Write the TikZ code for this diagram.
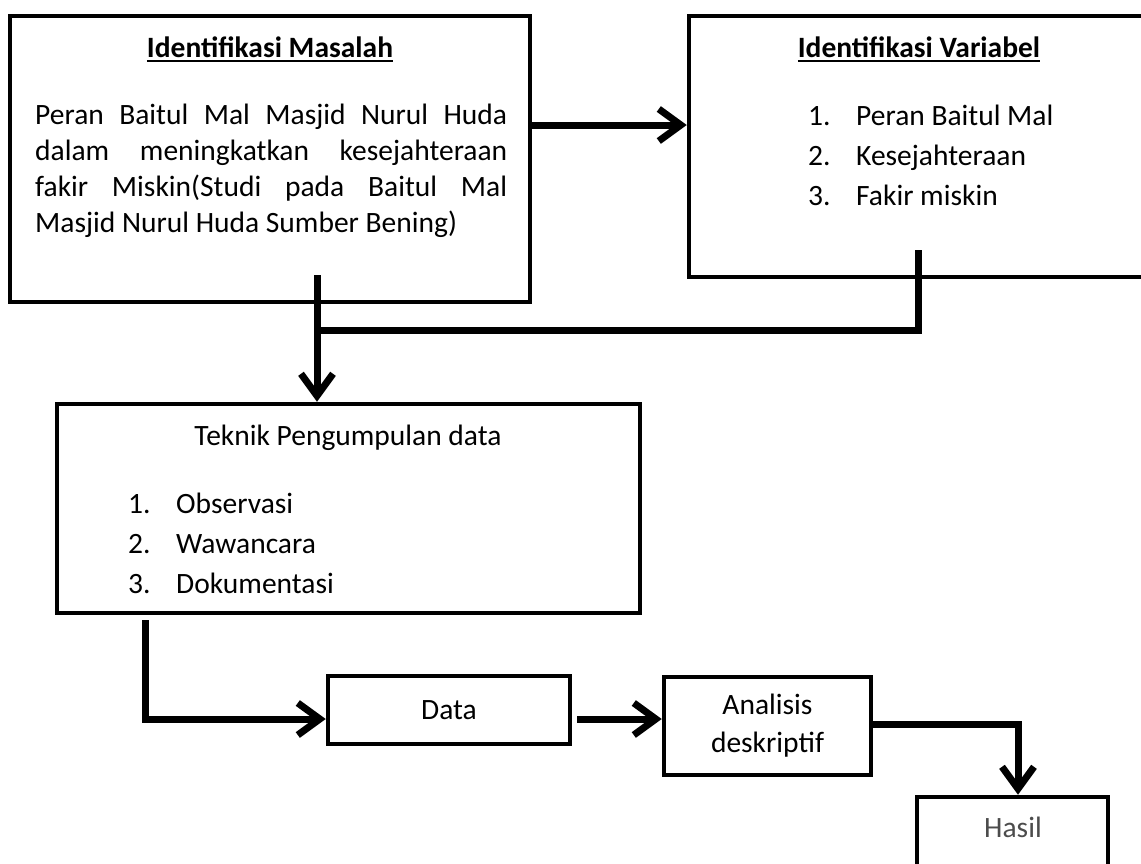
\documentclass[tikz,border=0pt]{standalone}
\usepackage{fontspec}
\setmainfont{Carlito}
\usepackage{tikz}
\usetikzlibrary{positioning,calc,arrows.meta}

\newcommand{\garis}[1]{\setbox0\hbox{#1}\rlap{\rule[-5pt]{\wd0}{2.5pt}}\box0}

\begin{document}
\begin{tikzpicture}[x=1pt,y=-1pt,
  font=\fontsize{29.5}{36}\selectfont,
  box/.style={draw, line width=4.5pt, rectangle, inner sep=0pt},
  txt/.style={inner sep=0pt, anchor=base},
  list/.style={inner sep=0pt, anchor=base west, text width=300pt, align=flush left,
    font=\fontsize{29.5}{40}\selectfont},
  flow/.style={line width=7pt, -{Straight Barb[length=22pt,width=32pt]}},
  link/.style={line width=7pt}]
  \useasboundingbox (0,0) rectangle (1141,863);
  \clip (0,0) rectangle (1141,863);

  % Boxes
  \node[box, minimum width=520pt, minimum height=286pt] (masalah) at (270,159) {};
  \node[box, minimum width=481pt, minimum height=261pt] (variabel) at (929.5,146.5) {};
  \node[box, minimum width=583pt, minimum height=209pt] (teknik) at (348.5,508.5) {};
  \node[box, minimum width=242pt, minimum height=68pt] (data) at (449,710) {Data};
  \node[box, minimum width=207pt, minimum height=98pt, align=center,
    font=\fontsize{29.5}{38}\selectfont] (analisis) at (767.5,726)
    {\raisebox{-4pt}{Analisis}\\\raisebox{-4pt}{deskriptif}};
  \node[box, minimum width=191pt, minimum height=93pt] (hasil) at (1012.5,843.5) {};

  % Texts
  \node[txt] (judul1) at (270,57) {\bfseries\garis{Identifikasi Masalah}};
  \node[inner sep=0pt, anchor=base west, text width=472pt, align=justify] (isi1) at (35,124)
    {Peran Baitul Mal Masjid Nurul Huda\linebreak dalam meningkatkan kesejahteraan\linebreak
     fakir Miskin(Studi pada Baitul Mal\linebreak Masjid Nurul Huda Sumber Bening)};
  \node[txt] (judul2) at (919,57) {\bfseries\garis{Identifikasi Variabel}};
  \node[list] (isi2) at (808,125) {\makebox[48pt][l]{1.}Peran Baitul Mal\\
    \makebox[48pt][l]{2.}Kesejahteraan\\ \makebox[48pt][l]{3.}Fakir miskin};
  \node[txt] (judul3) at (348,445) {Teknik Pengumpulan data};
  \node[list] (isi3) at (128,513) {\makebox[48pt][l]{1.}Observasi\\
    \makebox[48pt][l]{2.}Wawancara\\ \makebox[48pt][l]{3.}Dokumentasi};
  \node[txt, text=black!70] (hasiltxt) at (1013,837) {Hasil};

  % Arrows
  \coordinate (m1) at ([yshift=34pt]masalah.east);
  \draw[flow] (m1) -- (m1 -| variabel.west);
  \coordinate (m2) at ([xshift=47pt,yshift=29pt]masalah.south);
  \coordinate (v2) at ([xshift=-11.5pt,yshift=29pt]variabel.south);
  \coordinate (sambung) at ($(m2)+(0,55)$);
  \draw[link] (v2) |- (sambung);
  \draw[flow] (m2) -- (m2 |- teknik.north);
  \coordinate (t1) at ([xshift=91pt,yshift=-5pt]teknik.south west);
  \coordinate (d1) at ([yshift=-9pt]data.west);
  \draw[flow] (t1) |- (d1);
  \coordinate (d2) at ([xshift=5pt,yshift=-9pt]data.east);
  \draw[flow] (d2) -- (d2 -| analisis.west);
  \coordinate (a1) at ([yshift=2pt]analisis.east);
  \draw[flow] (a1) -| ([xshift=5.5pt]hasil.north);
\end{tikzpicture}
\end{document}
